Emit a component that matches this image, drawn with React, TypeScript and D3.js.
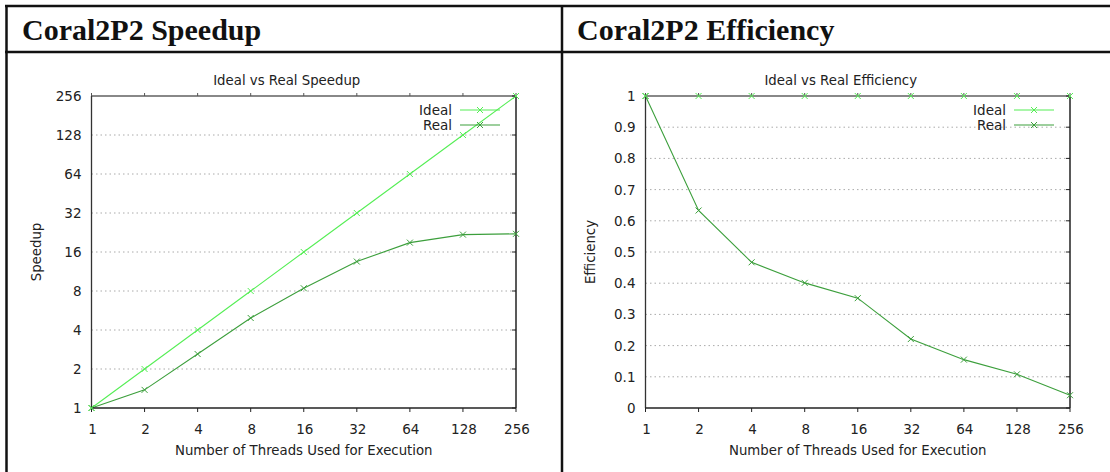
import React from "react";
import * as d3 from "d3";

const threads = [1, 2, 4, 8, 16, 32, 64, 128, 256];
const idealSpeedup = [1, 2, 4, 8, 16, 32, 64, 128, 256];
const realSpeedup = [1, 1.38, 2.61, 4.95, 8.4, 13.5, 18.9, 21.8, 22.1];
const idealEfficiency = [1, 1, 1, 1, 1, 1, 1, 1, 1];
const realEfficiency = [1, 0.633, 0.467, 0.401, 0.352, 0.221, 0.155, 0.108, 0.041];
const speedupTicks = [1, 2, 4, 8, 16, 32, 64, 128, 256];
const efficiencyTicks = [0, 0.1, 0.2, 0.3, 0.4, 0.5, 0.6, 0.7, 0.8, 0.9, 1];

const IDEAL = "#55ee55";
const REAL = "#3c9f3c";
const FONT = "'DejaVu Sans', sans-serif";

function Marker({ x, y, color }: { x: number; y: number; color: string }) {
  return (
    <path
      d={`M${x - 3},${y - 3}L${x + 3},${y + 3}M${x - 3},${y + 3}L${x + 3},${y - 3}`}
      stroke={color}
      strokeWidth={1}
      fill="none"
    />
  );
}

function Panel(props: {
  x0: number;
  x1: number;
  yScale: any;
  yTicks: number[];
  yFormat: (v: number) => string;
  ideal: number[];
  real: number[];
  title: string;
  yLabel: string;
  legendX: number;
}) {
  const { x0, x1, yScale, yTicks, yFormat, ideal, real, title, yLabel, legendX } = props;
  const x = d3.scaleLog().base(2).domain([1, 256]).range([x0, x1]);
  const [yb, yt] = [yScale.range()[0], yScale.range()[1]];
  const line = d3
    .line<number>()
    .x((_, i) => x(threads[i]))
    .y((d) => yScale(d));
  const cx = (x0 + x1) / 2;
  return (
    <g>
      {yTicks.slice(1, -1).map((t) => (
        <line key={"g" + t} x1={x0} x2={x1} y1={yScale(t)} y2={yScale(t)} stroke="#aaa" strokeWidth={1} strokeDasharray="1.5,3" />
      ))}
      <path d={line(real) || ""} fill="none" stroke={REAL} strokeWidth={1.1} />
      <path d={line(ideal) || ""} fill="none" stroke={IDEAL} strokeWidth={1.1} />
      <line x1={x0} x2={x1} y1={yt} y2={yt} stroke="#888" strokeWidth={2} />
      <line x1={x0} x2={x0} y1={yt} y2={yb} stroke="#333" strokeWidth={1.3} />
      <line x1={x1} x2={x1} y1={yt} y2={yb} stroke="#222" strokeWidth={1.5} />
      <line x1={x0} x2={x1} y1={yb} y2={yb} stroke="#222" strokeWidth={1.5} />
      {threads.map((t) => (
        <g key={"xt" + t}>
          <line x1={x(t)} x2={x(t)} y1={yb} y2={yb + 4} stroke="#222" strokeWidth={1} />
          <line x1={x(t)} x2={x(t)} y1={yt} y2={yt - 3} stroke="#555" strokeWidth={1} />
          <text x={x(t) + 1} y={yb + 26} textAnchor="middle" fontSize={13.5} fill="#222" fontFamily={FONT}>
            {t}
          </text>
        </g>
      ))}
      {yTicks.map((t) => (
        <g key={"yt" + t}>
          <line x1={x1 - 4} x2={x1} y1={yScale(t)} y2={yScale(t)} stroke="#222" strokeWidth={1} />
          <text x={x0 - 10} y={yScale(t) + 5} textAnchor="end" fontSize={13.5} fill="#222" fontFamily={FONT}>
            {yFormat(t)}
          </text>
        </g>
      ))}
      {real.map((d, i) => (
        <Marker key={"rm" + i} x={x(threads[i])} y={yScale(d)} color={REAL} />
      ))}
      {ideal.map((d, i) => (
        <Marker key={"im" + i} x={x(threads[i])} y={yScale(d)} color={IDEAL} />
      ))}
      <text x={cx - 17} y={85} textAnchor="middle" fontSize={13.3} fill="#222" fontFamily={FONT}>
        {title}
      </text>
      <text x={cx} y={455} textAnchor="middle" fontSize={13.3} fill="#222" fontFamily={FONT}>
        Number of Threads Used for Execution
      </text>
      <text
        transform={`translate(${x0 - 51},${(yt + yb) / 2}) rotate(-90)`}
        textAnchor="middle"
        fontSize={13.3}
        fill="#222"
        fontFamily={FONT}
      >
        {yLabel}
      </text>
      <text x={legendX - 8} y={115} textAnchor="end" fontSize={13.5} fill="#222" fontFamily={FONT}>Ideal</text>
      <line x1={legendX} x2={legendX + 40} y1={110} y2={110} stroke={IDEAL} strokeWidth={1.1} />
      <Marker x={legendX + 20} y={110} color={IDEAL} />
      <text x={legendX - 8} y={130} textAnchor="end" fontSize={13.5} fill="#222" fontFamily={FONT}>Real</text>
      <line x1={legendX} x2={legendX + 40} y1={125} y2={125} stroke={REAL} strokeWidth={1.1} />
      <Marker x={legendX + 20} y={125} color={REAL} />
    </g>
  );
}

export default function App() {
  const ySpeed = d3.scaleLog().base(2).domain([1, 256]).range([408, 96]);
  const yEff = d3.scaleLinear().domain([0, 1]).range([408, 96]);
  const serif = "'Liberation Serif', 'DejaVu Serif', serif";
  return (
    <svg width={1110} height={472} style={{ position: "absolute", left: 0, top: 0, background: "#fff" }}>
      <rect x={0} y={0} width={1110} height={472} fill="#fff" />
      <line x1={5} x2={1110} y1={6} y2={6} stroke="#111" strokeWidth={2.5} />
      <line x1={6.5} x2={6.5} y1={5} y2={472} stroke="#111" strokeWidth={2.5} />
      <line x1={562} x2={562} y1={5} y2={472} stroke="#111" strokeWidth={2.5} />
      <line x1={5} x2={1110} y1={52} y2={52} stroke="#111" strokeWidth={2.5} />
      <text x={22} y={40} fontSize={30} fontWeight="bold" fontFamily={serif} fill="#111">
        Coral2P2 Speedup
      </text>
      <text x={577} y={40} fontSize={30} fontWeight="bold" fontFamily={serif} fill="#111">
        Coral2P2 Efficiency
      </text>
      <Panel
        x0={91.5}
        x1={516}
        yScale={ySpeed}
        yTicks={speedupTicks}
        yFormat={(v) => String(v)}
        ideal={idealSpeedup}
        real={realSpeedup}
        title="Ideal vs Real Speedup"
        yLabel="Speedup"
        legendX={460}
      />
      <Panel
        x0={645.5}
        x1={1070}
        yScale={yEff}
        yTicks={efficiencyTicks}
        yFormat={(v) => String(v)}
        ideal={idealEfficiency}
        real={realEfficiency}
        title="Ideal vs Real Efficiency"
        yLabel="Efficiency"
        legendX={1014}
      />
    </svg>
  );
}
